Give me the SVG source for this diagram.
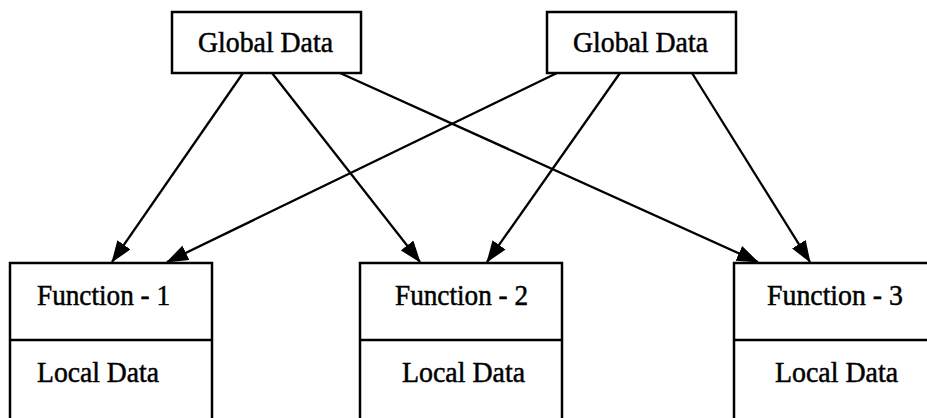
<svg xmlns="http://www.w3.org/2000/svg" width="927" height="418" viewBox="0 0 927 418">
<style>
.box{fill:#fff;stroke:#000;stroke-width:2.5}
.div{stroke:#000;stroke-width:2.5}
.t{font-family:"Liberation Serif","Times New Roman",serif;font-size:29px;fill:#000;stroke:#000;stroke-width:0.5}
.c{stroke:#000;stroke-width:2.3;fill:none;marker-end:url(#ah)}
</style>
<defs>
<marker id="ah" markerUnits="userSpaceOnUse" markerWidth="22" markerHeight="16" viewBox="0 0 22 16" refX="21" refY="8" orient="auto">
<path d="M0,0 L22,8 L0,16 Z" fill="#000"/>
</marker>
</defs>
<rect width="927" height="418" fill="#fff"/>
<g id="connectors">
<line class="c" x1="243" y1="73" x2="112" y2="262"/>
<line class="c" x1="272" y1="73" x2="420" y2="262"/>
<line class="c" x1="340" y1="73" x2="758" y2="262"/>
<line class="c" x1="557" y1="73" x2="167" y2="262"/>
<line class="c" x1="620" y1="73" x2="487" y2="262"/>
<line class="c" x1="692" y1="73" x2="810" y2="262"/>
</g>
<g id="global1">
<rect class="box" x="172" y="12" width="189" height="61"/>
<text class="t" x="198" y="52" textLength="135" lengthAdjust="spacingAndGlyphs">Global Data</text>
</g>
<g id="global2">
<rect class="box" x="547" y="12" width="189" height="61"/>
<text class="t" x="573" y="52" textLength="135" lengthAdjust="spacingAndGlyphs">Global Data</text>
</g>
<g id="function1">
<rect class="box" x="10" y="263" width="202" height="170"/>
<line class="div" x1="10" y1="340" x2="212" y2="340"/>
<text class="t" x="37" y="305" textLength="133" lengthAdjust="spacingAndGlyphs">Function - 1</text>
<text class="t" x="37" y="382" textLength="122" lengthAdjust="spacingAndGlyphs">Local Data</text>
</g>
<g id="function2">
<rect class="box" x="360" y="263" width="202" height="170"/>
<line class="div" x1="360" y1="340" x2="562" y2="340"/>
<text class="t" x="395" y="305" textLength="133" lengthAdjust="spacingAndGlyphs">Function - 2</text>
<text class="t" x="402" y="382" textLength="123" lengthAdjust="spacingAndGlyphs">Local Data</text>
</g>
<g id="function3">
<rect class="box" x="734" y="263" width="202" height="170"/>
<line class="div" x1="734" y1="340" x2="936" y2="340"/>
<text class="t" x="767" y="305" textLength="136" lengthAdjust="spacingAndGlyphs">Function - 3</text>
<text class="t" x="775" y="382" textLength="123" lengthAdjust="spacingAndGlyphs">Local Data</text>
</g>
</svg>
